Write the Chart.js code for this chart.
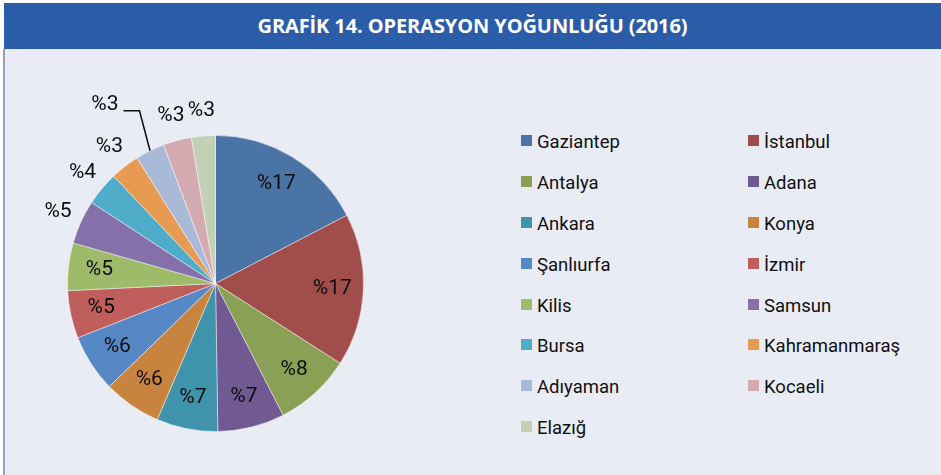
<!DOCTYPE html>
<html>
<head>
<meta charset="utf-8">
<script src="https://cdn.jsdelivr.net/npm/chart.js"></script>
<style>
    body { margin: 0; background: #ffffff; width: 941px; height: 475px; overflow: hidden; position: relative; }
    #title_bar {
        position: absolute; left: 4px; top: 3px; width: 937px; height: 46px;
        background: #2B5CA8; color: #ffffff;
        font-family: "Open Sans", sans-serif; font-weight: 700; font-size: 20px;
        letter-spacing: -0.1px; text-align: center; line-height: 46px;
    }
    #panel {
        position: absolute; left: 3px; top: 49px; width: 938px; height: 426px;
        background: #E9ECF5; border-left: 2px solid #9AA0C2; box-sizing: border-box;
    }
    #pie_chart { position: absolute; left: 0; top: 49px; }
    #legend {
        position: absolute; left: 521px; top: 122px;
        display: grid; grid-template-columns: 227px 180px; grid-auto-rows: 40.8px;
        font-family: Roboto, sans-serif; font-size: 18.5px; color: #111111;
    }
    #legend .item { display: flex; align-items: center; }
    #legend .box { width: 11px; height: 11px; margin-right: 5px; margin-top: -3px; }
</style>
</head>
<body>
<div id="title_bar">GRAFİK 14. OPERASYON YOĞUNLUĞU (2016)</div>
<div id="panel"></div>
<canvas id="pie_chart" width="432" height="426"></canvas>
<div id="legend"></div>

<script>
// share of operations per province, in percent
const cities = ["Gaziantep", "İstanbul", "Antalya", "Adana", "Ankara", "Konya", "Şanlıurfa", "İzmir",
                "Kilis", "Samsun", "Bursa", "Kahramanmaraş", "Adıyaman", "Kocaeli", "Elazığ"];
const shares = [17.4, 16.7, 8.4, 7.3, 6.7, 6.3, 6.3, 5.2, 5.2, 4.8, 3.7, 3.2, 3.2, 3.1, 2.6];
const colors = ["#4A73A6", "#A04D4B", "#8AA155", "#715A91", "#3F93AB", "#C8843E", "#5788C6", "#BF5E5B",
                "#9DBB68", "#8670A9", "#4FADCA", "#E79B50", "#A9BAD9", "#D2AAAF", "#C2D1B6"];

// labels "%x" drawn inside big slices, outside small ones
const pieLabels = {
    id: 'pieLabels',
    afterDatasetsDraw(chart) {
        const ctx = chart.ctx;
        const meta = chart.getDatasetMeta(0);
        ctx.save();
        ctx.font = '21px Roboto, sans-serif';
        ctx.fillStyle = '#0d0d0d';
        ctx.strokeStyle = '#0d0d0d';
        ctx.lineWidth = 1.5;
        ctx.textAlign = 'center';
        ctx.textBaseline = 'middle';

        meta.data.forEach((arc, i) => {
            const p = arc.getProps(['x', 'y', 'startAngle', 'endAngle', 'outerRadius'], true);
            const mid = (p.startAngle + p.endAngle) / 2;
            const val = shares[i];
            const text = '%' + Math.round(val);
            let r = val > 5 ? p.outerRadius * 0.79 : p.outerRadius * 1.17;
            let ang = mid;

            // Adıyaman label is pushed out of the way, with a leader line
            if (i === 12) {
                r = p.outerRadius * 1.42;
                ang = mid - 5.5 * Math.PI / 180;
            }
            const lx = p.x + Math.cos(ang) * r;
            const ly = p.y + Math.sin(ang) * r;
            ctx.fillText(text, lx, ly);

            if (i === 12) {
                const w = ctx.measureText(text).width;
                const ex = p.x + Math.cos(mid) * p.outerRadius;
                const ey = p.y + Math.sin(mid) * p.outerRadius;
                ctx.beginPath();
                ctx.moveTo(lx + w / 2 + 5, ly + 6);
                ctx.lineTo(lx + w / 2 + 21, ly + 6);
                ctx.lineTo(ex, ey);
                ctx.stroke();
            }
        });
        ctx.restore();
    }
};

const pie = new Chart(document.getElementById('pie_chart'), {
    type: 'pie',
    data: {
        labels: cities,
        datasets: [{
            data: shares,
            backgroundColor: colors,
            borderColor: 'rgba(255,255,255,0.45)',
            borderWidth: 1
        }]
    },
    options: {
        responsive: false,
        animation: false,
        layout: { padding: { left: 67, right: 68, top: 86, bottom: 43 } },
        plugins: {
            legend: { display: false },
            tooltip: { enabled: false }
        }
    },
    plugins: [pieLabels]
});

// legend, two columns, filled row by row
let template_legend = '';
pie.data.labels.forEach((name, i) => {
    template_legend += `
        <div class="item"><span class="box" style="background:${colors[i]}"></span><span>${name}</span></div>
    `;
});
document.getElementById('legend').innerHTML = template_legend;
</script>
</body>
</html>
